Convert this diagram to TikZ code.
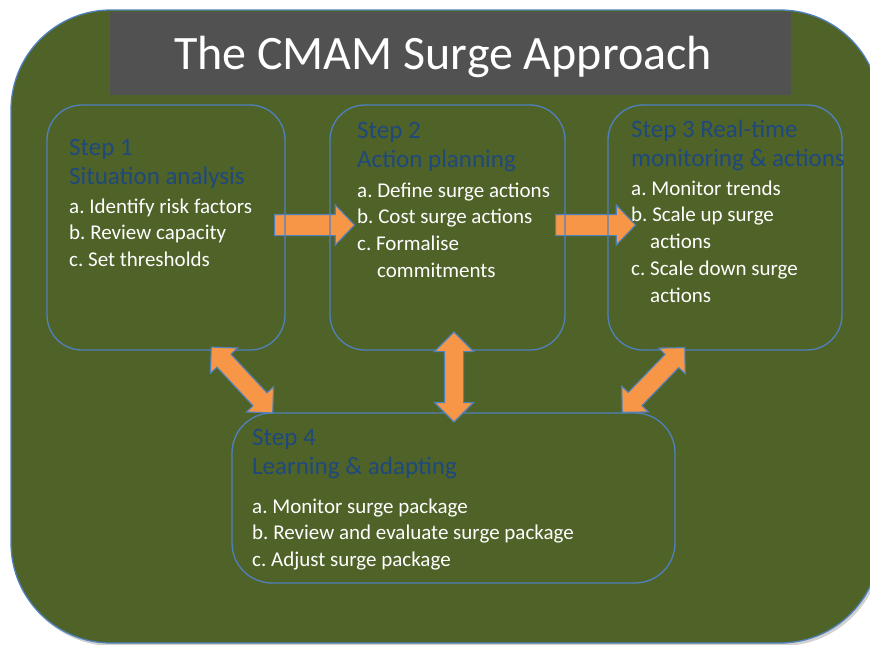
\documentclass[tikz,border=0pt]{standalone}
\usepackage{fontspec}
\setmainfont{Carlito}
\usepackage{xcolor}
\usepackage{tikz}
\usetikzlibrary{calc,shapes.arrows,shadows}

\definecolor{surgegreen}{HTML}{4F6228}
\definecolor{titlegray}{HTML}{515151}
\definecolor{edgeblue}{HTML}{4F81BD}
\definecolor{steporange}{HTML}{F79646}
\definecolor{stepblue}{HTML}{1F497D}

\pgfdeclarelayer{back}
\pgfdeclarelayer{mid}
\pgfsetlayers{back,mid,main}

\tikzset{
  stepbox/.style={draw=edgeblue, line width=1.3pt, rounded corners=35pt, inner sep=0pt},
  steptitle/.style={text=stepblue, font=\fontsize{25}{29.5}\selectfont, align=left, anchor=north west, inner sep=0pt},
  stepbody/.style={text=white, font=\fontsize{21}{26.7}\selectfont, align=left, anchor=north west, inner sep=0pt},
  blockarrow/.style={fill=steporange, draw=edgeblue, line width=1.1pt},
}

\begin{document}
\frenchspacing
\begin{tikzpicture}[x=1pt, y=-1pt]
  \useasboundingbox (0,0) rectangle (870,645);
  % green panel behind everything
  \begin{pgfonlayer}{back}
    \path[fill=surgegreen, draw=edgeblue, line width=1.3pt, rounded corners=100pt,
      drop shadow={shadow xshift=2pt, shadow yshift=-3pt, fill=black, opacity=.18}]
      (11,10) rectangle (880,643);
  \end{pgfonlayer}

  % heading bar
  \node[fill=titlegray, minimum width=681pt, minimum height=83pt, inner sep=0pt] (title) at (450.5,53.5) {};
  \node[text=white, font=\fontsize{48}{54}\selectfont, anchor=base] (heading) at (443,69) {The CMAM Surge Approach};

  % the four steps
  \node[stepbox, minimum width=238pt, minimum height=245pt] (s1) at (166,227.5) {};
  \node[stepbox, minimum width=235pt, minimum height=245pt] (s2) at (447.5,227.5) {};
  \node[stepbox, minimum width=234pt, minimum height=245pt] (s3) at (725,227.5) {};
  \node[stepbox, minimum width=443pt, minimum height=170pt, rounded corners=40pt] (s4) at (453.5,498) {};

  \node[steptitle] (t1) at (69,139) {Step 1\\Situation analysis};
  \node[stepbody] (b1) at (69,198.5) {a. Identify risk factors\\b. Review capacity\\c. Set thresholds};

  \node[steptitle] (t2) at (357,122) {Step 2\\Action planning};
  \node[stepbody] (b2) at (357,182.5) {a. Define surge actions\\b. Cost surge actions\\c. Formalise\\\hspace*{20pt}commitments};

  \node[steptitle] (t3) at (631,119.5) {Step 3 Real-time\\monitoring \& actions};
  \node[stepbody] (b3) at (631,180.5) {a. Monitor trends\\b. Scale up surge\\\hspace*{19pt}actions\\c. Scale down surge\\\hspace*{19pt}actions};

  \node[steptitle] (t4) at (252,429) {Step 4\\Learning \& adapting};
  \node[stepbody] (b4) at (252,498.5) {a. Monitor surge package\\b. Review and evaluate surge package\\c. Adjust surge package};

  % forward arrows sit under the box outlines
  \begin{pgfonlayer}{mid}
    \node[blockarrow, single arrow, inner sep=10pt, minimum height=80pt, single arrow head extend=9.5pt,
      single arrow tip angle=92] (a12) at ($(s1.east)!0.5!(s2.west)+(2,-2.5)$) {};
    \node[blockarrow, single arrow, inner sep=10pt, minimum height=80pt, single arrow head extend=9.5pt,
      single arrow tip angle=92] (a23) at ($(s2.east)!0.5!(s3.west)+(4,-2.5)$) {};
  \end{pgfonlayer}

  % feedback arrows to step 4
  \node[blockarrow, double arrow, inner sep=9pt, minimum height=90pt, double arrow head extend=9pt, rotate=-47]
    (a14) at ($(s1.south east)!0.5!(s4.north west)+(-16.5,-1.5)$) {};
  \node[blockarrow, double arrow, inner sep=9pt, minimum height=90pt, double arrow head extend=10pt, rotate=90]
    (a24) at ($(s2.south)!0.5!(s4.north)+(3.5,-4.5)$) {};
  \node[blockarrow, double arrow, inner sep=9pt, minimum height=90pt, double arrow head extend=9pt, rotate=46]
    (a34) at ($(s3.south west)!0.5!(s4.north east)+(12,-1.5)$) {};
\end{tikzpicture}
\end{document}
